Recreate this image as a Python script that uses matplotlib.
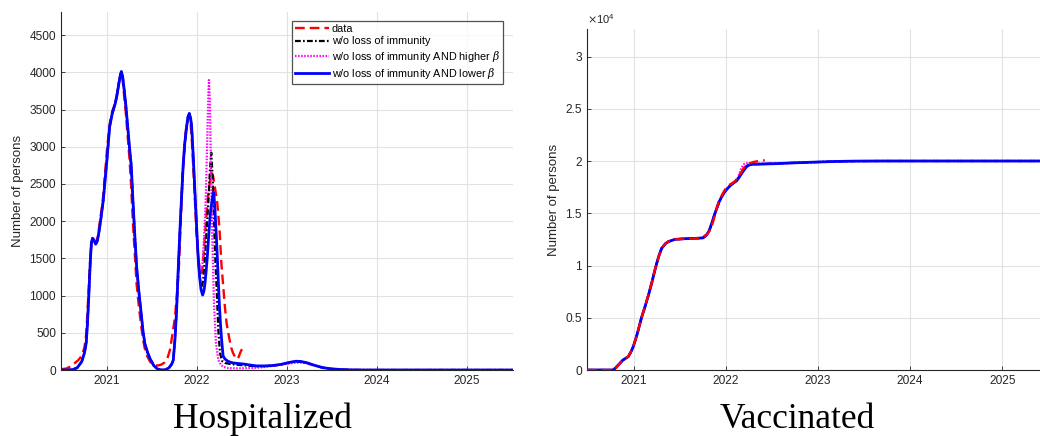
import matplotlib
matplotlib.use("Agg")
import matplotlib.pyplot as plt
from matplotlib.ticker import FuncFormatter

plt.rcParams['font.family'] = ['Liberation Sans', 'DejaVu Sans']
plt.rcParams['lines.scale_dashes'] = False
plt.rcParams['mathtext.fontset'] = 'dejavuserif'

# ---------------- Hospitalized ----------------
# reported hospital occupancy (decimal years, persons)
hosp_data_t = [2020.49, 2020.55, 2020.60, 2020.64, 2020.68, 2020.72, 2020.75, 2020.77, 2020.785,
               2020.80, 2020.815, 2020.83, 2020.845, 2020.86, 2020.88, 2020.90, 2020.92, 2020.94,
               2020.96, 2020.98, 2021.00, 2021.03, 2021.06, 2021.09, 2021.11, 2021.13, 2021.15,
               2021.16, 2021.175, 2021.19, 2021.21, 2021.23, 2021.25, 2021.27, 2021.29, 2021.31,
               2021.33, 2021.355, 2021.38, 2021.40, 2021.42, 2021.45, 2021.48, 2021.52, 2021.56,
               2021.60, 2021.64, 2021.67, 2021.70, 2021.73, 2021.755, 2021.78, 2021.80, 2021.82,
               2021.84, 2021.86, 2021.88, 2021.90, 2021.915, 2021.93, 2021.945, 2021.96,
               2021.975, 2021.99, 2022.005, 2022.02, 2022.035, 2022.05, 2022.065, 2022.08, 2022.10,
               2022.12, 2022.14, 2022.16, 2022.18, 2022.20, 2022.225, 2022.25, 2022.27, 2022.29,
               2022.31, 2022.33, 2022.355, 2022.38, 2022.40, 2022.43, 2022.455, 2022.48, 2022.51]
hosp_data = [10, 20, 50, 90, 130, 190, 300, 480, 800,
             1150, 1500, 1720, 1760, 1720, 1700, 1800, 1980, 2150,
             2350, 2650, 2950, 3300, 3480, 3580, 3700, 3850, 3950,
             3980, 3900, 3700, 3450, 3150, 2850, 2450, 1950, 1550,
             1150, 850, 600, 420, 290, 180, 110, 70, 60,
             70, 100, 150, 270, 500, 700, 1050, 1400, 2000,
             2600, 3000, 3250, 3370, 3400, 3300, 3050, 2700,
             2350, 1950, 1650, 1450, 1330, 1300, 1400, 1650, 2000,
             2300, 2500, 2650, 2600, 2450, 2250, 1900, 1450, 1150,
             850, 620, 450, 300, 230, 160, 150, 230, 310]

# model runs coincide until early 2022
hosp_model_common_t = [2020.49, 2020.55, 2020.62, 2020.67, 2020.72, 2020.75, 2020.77, 2020.785,
                       2020.80, 2020.815, 2020.827, 2020.84, 2020.855, 2020.875, 2020.895,
                       2020.915, 2020.935, 2020.96, 2020.98, 2021.00, 2021.03, 2021.06, 2021.09,
                       2021.11, 2021.13, 2021.15, 2021.16, 2021.175, 2021.19, 2021.21, 2021.23,
                       2021.25, 2021.27, 2021.29, 2021.31, 2021.33, 2021.355, 2021.38, 2021.40,
                       2021.42, 2021.45, 2021.48, 2021.52, 2021.56, 2021.60, 2021.65, 2021.69,
                       2021.72, 2021.737, 2021.755, 2021.774, 2021.79, 2021.811, 2021.83, 2021.848,
                       2021.865, 2021.885, 2021.90, 2021.915, 2021.93, 2021.941, 2021.959,
                       2021.975, 2021.989, 2022.003, 2022.015]
hosp_model_common = [0, 0, 5, 30, 112, 230, 362, 650,
                     1034, 1450, 1700, 1770, 1750, 1690, 1740,
                     1880, 2050, 2283, 2560, 2820, 3268, 3450, 3570,
                     3680, 3830, 3970, 4010, 3940, 3780, 3560, 3280,
                     3000, 2750, 2250, 1800, 1387, 1050, 765, 530,
                     362, 240, 150, 60, 15, 0, 3, 30,
                     80, 134, 400, 806, 1300, 1880, 2350, 2776,
                     3050, 3268, 3400, 3447, 3380, 3268, 2865,
                     2450, 2104, 1750, 1477]

# w/o loss of immunity
hosp_base_t = [2022.03, 2022.045, 2022.055, 2022.07, 2022.089, 2022.108, 2022.126, 2022.144,
               2022.159, 2022.174, 2022.192, 2022.205, 2022.218, 2022.237, 2022.256, 2022.28,
               2022.31, 2022.37, 2022.45, 2022.55, 2022.66, 2022.75, 2022.84, 2022.93, 2023.03,
               2023.10, 2023.15, 2023.22, 2023.30, 2023.40, 2023.50, 2023.59, 2023.70, 2023.85,
               2025.51]
hosp_base = [1250, 1140, 1120, 1220, 1522, 1900, 2239, 2686,
             2920, 2596, 1880, 1450, 1119, 537, 224, 120,
             95, 80, 70, 60, 50, 52, 58, 72, 100,
             115, 112, 95, 63, 30, 14, 6, 2, 0,
             0]

# w/o loss of immunity AND higher beta
hosp_high_t = [2022.03, 2022.045, 2022.06, 2022.075, 2022.096, 2022.115, 2022.126, 2022.133,
               2022.144, 2022.156, 2022.17, 2022.189, 2022.211, 2022.237, 2022.265, 2022.29,
               2022.35, 2022.45, 2022.55, 2022.66, 2022.75, 2022.84, 2022.93, 2023.03, 2023.10,
               2023.15, 2023.22, 2023.30, 2023.40, 2023.50, 2023.59, 2023.70, 2023.85, 2025.51]
hosp_high = [1390, 1330, 1400, 1700, 2239, 3133, 3670, 3895,
             3585, 2686, 1790, 896, 362, 134, 70, 45,
             25, 22, 25, 30, 40, 55, 70, 88, 98,
             100, 90, 60, 30, 14, 6, 2, 0, 0]

# w/o loss of immunity AND lower beta
hosp_low_t = [2022.03, 2022.045, 2022.063, 2022.077, 2022.089, 2022.102, 2022.115, 2022.137,
              2022.15, 2022.163, 2022.181, 2022.19, 2022.20, 2022.213, 2022.226, 2022.237,
              2022.248, 2022.262, 2022.274, 2022.29, 2022.31, 2022.34, 2022.37, 2022.40,
              2022.45, 2022.52, 2022.60, 2022.66, 2022.75, 2022.84, 2022.93, 2023.03, 2023.10,
              2023.15, 2023.22, 2023.30, 2023.40, 2023.50, 2023.59, 2023.70, 2023.85, 2025.51]
hosp_low = [1250, 1080, 1007, 1060, 1164, 1330, 1522, 1924,
            2120, 2239, 2390, 2330, 2149, 1850, 1522, 1200,
            896, 600, 403, 190, 150, 120, 105, 95,
            88, 80, 65, 55, 55, 60, 75, 103, 118,
            115, 98, 65, 31, 15, 7, 2, 0, 0]

# ---------------- Vaccinated ----------------
vacc_data_t = [2020.49, 2020.60, 2020.70, 2020.79, 2020.83, 2020.88, 2020.938, 2020.965, 2020.992,
               2021.02, 2021.047, 2021.08, 2021.12, 2021.16, 2021.192, 2021.22, 2021.247, 2021.275,
               2021.301, 2021.34, 2021.373, 2021.446, 2021.55, 2021.663, 2021.72, 2021.76, 2021.80,
               2021.83, 2021.86, 2021.89, 2021.92, 2021.953, 2021.98, 2022.008, 2022.04, 2022.07,
               2022.10, 2022.13, 2022.16, 2022.19, 2022.22, 2022.26, 2022.30, 2022.35, 2022.42]
vacc_data = [0, 0, 0, 0, 480, 950, 1280, 1700, 2230,
             3000, 3830, 4950, 6060, 7300, 8300, 9350, 10210, 11000,
             11650, 12100, 12290, 12510, 12560, 12580, 12620, 12800, 13050,
             13450, 14200, 15200, 16100, 16700, 17150, 17500, 17750, 17900,
             18100, 18450, 18850, 19300, 19600, 19800, 19920, 20000, 20080]

vacc_model_common_t = [2020.49, 2020.60, 2020.70, 2020.775, 2020.80, 2020.83, 2020.88, 2020.938,
                       2020.965, 2020.992, 2021.02, 2021.047, 2021.08, 2021.12, 2021.16, 2021.192,
                       2021.22, 2021.247, 2021.275, 2021.301, 2021.34, 2021.373, 2021.446, 2021.55,
                       2021.663, 2021.75, 2021.79, 2021.82, 2021.845, 2021.87, 2021.899, 2021.925,
                       2021.953, 2021.98, 2022.008, 2022.035, 2022.062, 2022.09, 2022.116]
vacc_model_common = [0, 0, 0, 0, 200, 480, 950, 1280,
                     1700, 2230, 3000, 3830, 4950, 6060, 7250, 8300,
                     9300, 10210, 11050, 11650, 12080, 12290, 12510, 12570,
                     12600, 12650, 12930, 13400, 14050, 14750, 15480, 16100,
                     16590, 16980, 17300, 17560, 17780, 17960, 18130]

vacc_base_t = [2022.145, 2022.171, 2022.20, 2022.225, 2022.25, 2022.279, 2022.40, 2022.55,
               2022.696, 2022.85, 2023.02, 2023.20, 2023.40, 2023.70, 2024.20, 2025.45]
vacc_base = [18550, 18950, 19350, 19550, 19650, 19700, 19730, 19770,
             19820, 19870, 19920, 19970, 20000, 20010, 20010, 20010]

vacc_high_t = [2022.14, 2022.16, 2022.18, 2022.20, 2022.225, 2022.25, 2022.279, 2022.40, 2022.55,
               2022.696, 2022.85, 2023.02, 2023.20, 2023.40, 2023.70, 2024.20, 2025.45]
vacc_high = [18700, 19200, 19550, 19750, 19800, 19790, 19760, 19760, 19780,
             19820, 19870, 19920, 19970, 20000, 20010, 20010, 20010]

vacc_low_t = [2022.145, 2022.171, 2022.20, 2022.225, 2022.25, 2022.279, 2022.40, 2022.55,
              2022.696, 2022.85, 2023.02, 2023.20, 2023.40, 2023.70, 2024.20, 2025.45]
vacc_low = [18480, 18830, 19200, 19470, 19620, 19690, 19720, 19760,
            19820, 19870, 19920, 19970, 20000, 20010, 20010, 20010]

year_ticks = [2021, 2022, 2023, 2024, 2025]
year_labels = ['2021', '2022', '2023', '2024', '2025']
legend_labels = ['data', 'w/o loss of immunity',
                 r'w/o loss of immunity AND higher $\beta$',
                 r'w/o loss of immunity AND lower $\beta$']
panel_titles = ['Hospitalized', 'Vaccinated']

DARK = '#262626'
GRID = '#e2e2e2'
styles = [dict(color='#ff0000', lw=1.7, dashes=(7.0, 3.6)),
          dict(color='#000000', lw=1.6, dashes=(4.2, 1.6, 1.2, 1.6)),
          dict(color='#ff00ff', lw=1.6, dashes=(1.1, 1.1)),
          dict(color='#0000ff', lw=2.0, linestyle='-')]


def style_axes(ax, xlim, ylim, yticks):
    ax.set_xlim(*xlim)
    ax.set_ylim(*ylim)
    ax.set_xticks(year_ticks)
    ax.set_xticklabels(year_labels)
    ax.set_yticks(yticks)
    ax.grid(True, color=GRID, lw=0.8)
    ax.set_axisbelow(True)
    for side in ('top', 'right'):
        ax.spines[side].set_visible(False)
    for side in ('left', 'bottom'):
        ax.spines[side].set_color(DARK)
        ax.spines[side].set_linewidth(0.8)
    ax.tick_params(direction='in', length=3, width=0.6, colors=DARK,
                   labelsize=8.6, pad=3.6)
    ax.set_ylabel('Number of persons', fontsize=9.5, color=DARK, labelpad=4)


fig = plt.figure(figsize=(10.4, 4.36), dpi=100)
W, H = 1040.0, 436.0

ax1 = fig.add_axes([61 / W, 1 - 370 / H, 452 / W, 358 / H])
series1 = [(hosp_data_t, hosp_data),
           (hosp_model_common_t + hosp_base_t, hosp_model_common + hosp_base),
           (hosp_model_common_t + hosp_high_t, hosp_model_common + hosp_high),
           (hosp_model_common_t + hosp_low_t, hosp_model_common + hosp_low)]
for (t, v), st, lab in zip(series1, styles, legend_labels):
    ax1.plot(t, v, label=lab, **st)
style_axes(ax1, (2020.49, 2025.51), (0, 4810), list(range(0, 4501, 500)))
leg = ax1.legend(loc='upper right', bbox_to_anchor=(0.978, 0.975), borderaxespad=0,
                 fontsize=7.8, handlelength=3.1, handletextpad=0.25, labelspacing=0.2,
                 borderpad=0.3, frameon=True, fancybox=False)
leg.get_frame().set_edgecolor(DARK)
leg.get_frame().set_linewidth(0.9)

ax2 = fig.add_axes([587 / W, 1 - 370 / H, (W - 587) / W, 341 / H])
series2 = [(vacc_data_t, vacc_data),
           (vacc_model_common_t + vacc_base_t, vacc_model_common + vacc_base),
           (vacc_model_common_t + vacc_high_t, vacc_model_common + vacc_high),
           (vacc_model_common_t + vacc_low_t, vacc_model_common + vacc_low)]
# the data curve sits on top of the model runs here
for (t, v), st, z in zip(series2, styles, [5, 2, 3, 4]):
    ax2.plot(t, v, zorder=z, **st)
style_axes(ax2, (2020.49, 2025.41), (0, 32650), list(range(0, 30001, 5000)))
ax2.yaxis.set_major_formatter(FuncFormatter(lambda v, p: f'{v / 1e4:g}'))
ax2.text(0.0, 1.008, r'$\times\mathregular{10^{4}}$', transform=ax2.transAxes,
         ha='left', va='bottom', fontsize=8, color=DARK)

for x, title in zip([262 / W, 797 / W], panel_titles):
    fig.text(x, 1 - 428 / H, title, ha='center', va='baseline',
             fontsize=25.5, family='Liberation Serif', color='black')

fig.savefig('out.png', dpi=100)
